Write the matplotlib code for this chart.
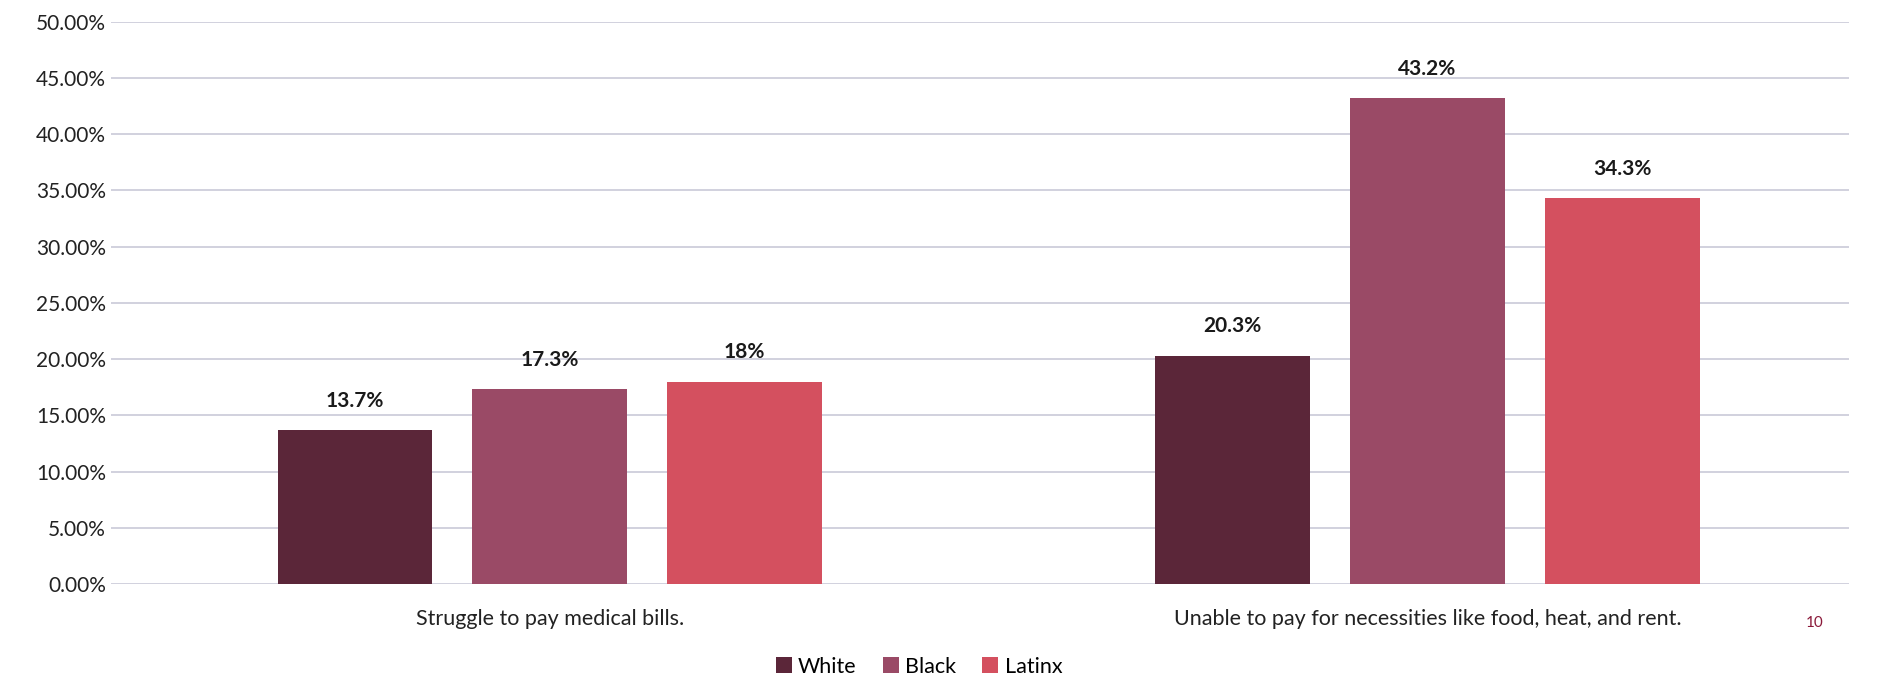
import numpy as np
import matplotlib.pyplot as plt
from matplotlib.ticker import FuncFormatter

plt.rcParams['font.family'] = ['Lato', 'DejaVu Sans']

categories = ["Struggle to pay medical bills.",
              "Unable to pay for necessities like food, heat, and rent."]
groups = ["White", "Black", "Latinx"]
white = [13.7, 20.3]
black = [17.3, 43.2]
latinx = [18.0, 34.3]
labels = [["13.7%", "20.3%"], ["17.3%", "43.2%"], ["18%", "34.3%"]]
colors = ["#5b2639", "#9a4a66", "#d4505f"]

fig = plt.figure(figsize=(18.77, 6.76), dpi=100)
ax = fig.add_axes([0.059, 0.136, 0.926, 0.832])

x = np.arange(len(categories))
w = 0.176
step = 0.222
series = [white, black, latinx]
for i in range(3):
    bars = ax.bar(x + (i - 1) * step, series[i], w, color=colors[i],
                  label=groups[i], zorder=3)
    for b, lab in zip(bars, labels[i]):
        ax.annotate(lab, (b.get_x() + b.get_width() / 2, b.get_height()),
                    xytext=(0, 14), textcoords="offset points",
                    ha="center", va="bottom", fontsize=15,
                    fontweight="bold", color="#1a1a1a")

ax.set_ylim(0, 50)
ax.set_yticks(np.arange(0, 51, 5))
ax.yaxis.set_major_formatter(FuncFormatter(lambda v, p: "%.2f%%" % v))
ax.set_xlim(-0.5, 1.48)
ax.set_xticks(x)
ax.set_xticklabels(categories, fontsize=15.5, color="#222222")
ax.tick_params(axis="both", length=0, labelsize=15, colors="#222222")
ax.tick_params(axis="x", pad=18, labelsize=15.5)
ax.grid(axis="y", color="#c9c9d8", linewidth=1.2, zorder=0)
for s in ax.spines.values():
    s.set_visible(False)

ax.legend(loc="upper center", bbox_to_anchor=(0.465, -0.095), ncol=3,
          frameon=False, fontsize=15.5, handlelength=0.75, handleheight=0.75,
          columnspacing=1.2, handletextpad=0.3)

fig.text(0.967, 0.073, "10", color="#8b1a3a", fontsize=11, ha="center")

plt.savefig("out.png")
